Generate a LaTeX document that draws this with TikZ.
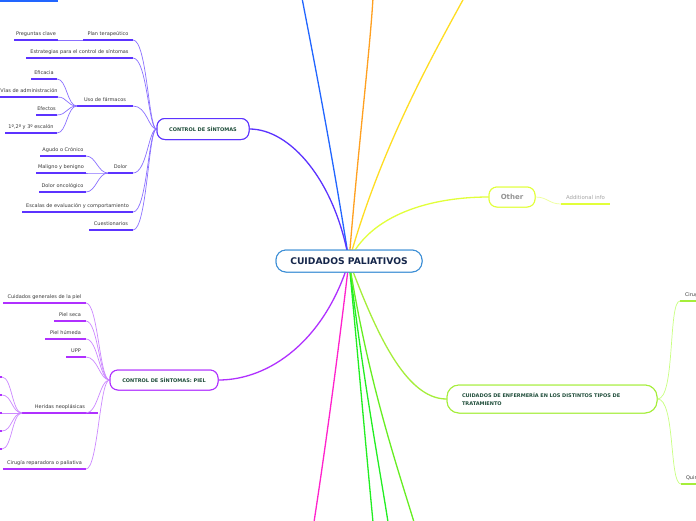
\documentclass[tikz,border=0pt]{standalone}
\usepackage{fontspec}
\setmainfont{DejaVu Sans}
\definecolor{labelgray}{HTML}{3A3A3A}
\definecolor{ctrlc}{HTML}{5C33FF}
\definecolor{ctrll}{HTML}{8A70FF}
\definecolor{pielc}{HTML}{B030FF}
\definecolor{piell}{HTML}{CC88FF}
\definecolor{otherc}{HTML}{E2FF3A}
\definecolor{otherl}{HTML}{EEFF99}
\definecolor{enfc}{HTML}{A5EE3A}
\definecolor{enfl}{HTML}{C8FF80}
\definecolor{darkgreen}{HTML}{1F4D3A}
\definecolor{centerc}{HTML}{3D8FD6}
\definecolor{navy}{HTML}{15264A}
\definecolor{bluec}{HTML}{2266FF}
\definecolor{orangec}{HTML}{FFA020}
\definecolor{yellowc}{HTML}{FFDD22}
\definecolor{magc}{HTML}{FF22CC}
\definecolor{greenc}{HTML}{22EE22}
\definecolor{green2}{HTML}{66EE22}
\tikzset{
  branch/.style={line width=1.3pt, line cap=round},
  sub/.style={line width=0.7pt},
  ul/.style={line width=1.8pt},
  leafnode/.style={anchor=south, inner xsep=0pt, inner ysep=3.2pt, outer sep=0pt,
    font=\fontsize{5}{6}\selectfont, text=labelgray, text height=3.6pt, text depth=1pt},
  topic/.style={draw, fill=white, rounded corners=8pt, line width=1pt, inner sep=0pt,
    font=\fontsize{5}{6}\selectfont\bfseries, text=darkgreen},
  centertopic/.style={topic, draw=centerc, text=navy, font=\fontsize{9.2}{11}\selectfont\bfseries,
      minimum width=146pt, minimum height=22pt, rounded corners=10pt},
  ctrltopic/.style={topic, draw=ctrlc, minimum width=92pt, minimum height=21pt},
  pieltopic/.style={topic, draw=pielc, minimum width=108pt, minimum height=20pt},
  othertopic/.style={topic, draw=otherc, text=gray!85, font=\fontsize{7}{8}\selectfont\bfseries,
      minimum width=46pt, minimum height=20pt},
  enftopic/.style={topic, draw=enfc, minimum width=210pt, minimum height=28pt, rounded corners=12pt,
      align=left, text width=180pt, font=\fontsize{5}{8}\selectfont\bfseries}
}
\newcommand\mmleaf[6]{%
  \node[leafnode, minimum width={(#3-#2)*1pt}] (#1) at ({(#2+#3)/2},#4) {#6};
  \draw[ul,#5] (#1.south west) -- (#1.south east);
}
\begin{document}
\begin{tikzpicture}[x=1pt,y=-1pt]
\clip (0,0) rectangle (696,520);
\fill[white] (0,0) rectangle (696,520);

% off-picture ends
\coordinate (tb) at (302,-2);
\coordinate (to) at (373,-2);
\coordinate (ty) at (464,-2);
\coordinate (bm) at (314,522);
\coordinate (bg1) at (373,522);
\coordinate (bg2) at (388,522);
\coordinate (bg3) at (414,522);
\coordinate (c0) at (349,261);

% top-left fragment
\coordinate (tl1) at (-5,1);
\coordinate (tl2) at (58,1);
\draw[ul,bluec] (tl1) -- (tl2);

% main nodes (names for anchors)
\node[centertopic] (center) at (349,261) {CUIDADOS PALIATIVOS};
\node[ctrltopic] (ctrl) at (203,129) {CONTROL DE SÍNTOMAS};
\node[pieltopic] (piel) at (164,380) {CONTROL DE SÍNTOMAS: PIEL};
\node[othertopic] (other) at (512,197) {Other};
\node[enftopic] (enf) at (552,399) {CUIDADOS DE ENFERMERÍA EN LOS DISTINTOS TIPOS DE\\TRATAMIENTO};

% main branches
\draw[branch,bluec] (c0) .. controls (330,140) and (310,40) .. (tb);
\draw[branch,orangec] (c0) .. controls (358,150) and (370,50) .. (to);
\draw[branch,yellowc] (c0) .. controls (380,150) and (430,60) .. (ty);
\draw[branch,magc] (c0) .. controls (335,380) and (322,470) .. (bm);
\draw[branch,greenc] (c0) .. controls (360,380) and (368,470) .. (bg1);
\draw[branch,greenc] (c0) .. controls (363,380) and (380,470) .. (bg2);
\draw[branch,green2] (c0) .. controls (368,380) and (395,460) .. (bg3);
\draw[branch,ctrlc] (c0) .. controls (335,180) and (290,129) .. (ctrl.east);
\draw[branch,pielc] (c0) .. controls (325,340) and (270,380) .. (piel.east);
\draw[branch,otherc] (c0) .. controls (370,215) and (430,197) .. (other.west);
\draw[branch,enfc] (c0) .. controls (375,330) and (405,399) .. (enf.west);

% center node on top of branches
\node[centertopic] at (349,261) {CUIDADOS PALIATIVOS};

% CONTROL DE SINTOMAS children
\mmleaf{plan}{83}{133}{40}{ctrlc}{Plan terapeútico}
\mmleaf{preg}{14}{58}{40}{ctrlc}{Preguntas clave}
\mmleaf{estr}{26}{133}{58}{ctrlc}{Estrategias para el control de síntomas}
\mmleaf{uso}{77}{133}{106}{ctrlc}{Uso de fármacos}
\mmleaf{efic}{31}{57}{79}{ctrlc}{Eficacia}
\mmleaf{vias}{1}{57}{97}{ctrlc}{Vías de administración}
\draw[ul,ctrlc] (-3,97) -- (vias.south west);
\mmleaf{efec}{36}{57}{115}{ctrlc}{Efectos}
\mmleaf{esca}{5}{57}{133}{ctrlc}{1º,2º y 3º escalón}
\mmleaf{dolor}{108}{133}{173}{ctrlc}{Dolor}
\mmleaf{agudo}{40}{86}{156}{ctrlc}{Agudo o Crónico}
\mmleaf{malig}{36}{86}{173}{ctrlc}{Maligno y benigno}
\mmleaf{onco}{39}{86}{192}{ctrlc}{Dolor oncológico}
\mmleaf{escal}{22}{133}{212}{ctrlc}{Escalas de evaluación y comportamiento}
\mmleaf{cuest}{89}{133}{230}{ctrlc}{Cuestionarios}

\foreach \n in {plan,estr,uso,dolor,escal,cuest}
  \draw[sub,ctrll] (ctrl.west) .. controls +(-8,0) and +(14,0) .. (\n.south east);
\draw[sub,ctrll] (plan.south west) -- (preg.south east);
\foreach \n in {efic,vias,efec,esca}
  \draw[sub,ctrll] (uso.south west) .. controls +(-10,0) and +(10,0) .. (\n.south east);
\foreach \n in {agudo,malig,onco}
  \draw[sub,ctrll] (dolor.south west) .. controls +(-10,0) and +(10,0) .. (\n.south east);

% PIEL children
\mmleaf{cuid}{3}{86}{303}{pielc}{Cuidados generales de la piel}
\mmleaf{seca}{54}{86}{321}{pielc}{Piel seca}
\mmleaf{hume}{45}{86}{339}{pielc}{Piel húmeda}
\mmleaf{upp}{66}{86}{357}{pielc}{UPP}
\mmleaf{heri}{22}{98}{413}{pielc}{Heridas neoplásicas}
\mmleaf{ciru}{3}{86}{469}{pielc}{Cirugía reparadora o paliativa}
\coordinate (herie) at (86,413);
\draw[ul,pielc] (heri.south east) -- (herie);
\foreach \n in {cuid,seca,hume,upp,ciru}
  \draw[sub,piell] (piel.west) .. controls +(-10,0) and +(12,0) .. (\n.south east);
\draw[sub,piell] (piel.west) .. controls +(-10,0) and +(12,0) .. (herie);
\foreach \i/\y in {1/377,2/395,3/413,4/431,5/449} {
  \coordinate (hc\i) at (2,\y);
  \coordinate (hs\i) at (-20,\y);
  \draw[ul,pielc] (hs\i) -- (hc\i);
  \draw[sub,piell] (heri.south west) .. controls +(-10,0) and +(10,0) .. (hc\i);
}

% Other child
\mmleaf{addi}{561}{610}{204}{otherc}{\textcolor{gray!70}{\fontsize{5.4}{6}\selectfont Additional info}}
\draw[sub,otherl] (other.east) .. controls +(12,0) and +(-12,0) .. (addi.south west);

% Enfermeria children (cut off by the picture edge)
\node[leafnode, anchor=south west, inner xsep=5pt] (cirug) at (680,301) {Cirug};
\draw[ul,enfc] (cirug.south west) -- (cirug.south east);
\node[leafnode, anchor=south west, inner xsep=5pt] (quim) at (681,484) {Quim};
\draw[ul,enfc] (quim.south west) -- (quim.south east);
\draw[sub,enfl] (enf.east) .. controls +(18,0) and +(-12,0) .. (cirug.south west);
\draw[sub,enfl] (enf.east) .. controls +(18,0) and +(-12,0) .. (quim.south west);

% topic nodes on top of branches
\node[ctrltopic] at (203,129) {CONTROL DE SÍNTOMAS};
\node[pieltopic] at (164,380) {CONTROL DE SÍNTOMAS: PIEL};
\node[othertopic] at (512,197) {Other};
\node[enftopic] at (552,399) {CUIDADOS DE ENFERMERÍA EN LOS DISTINTOS TIPOS DE\\TRATAMIENTO};
\end{tikzpicture}
\end{document}
